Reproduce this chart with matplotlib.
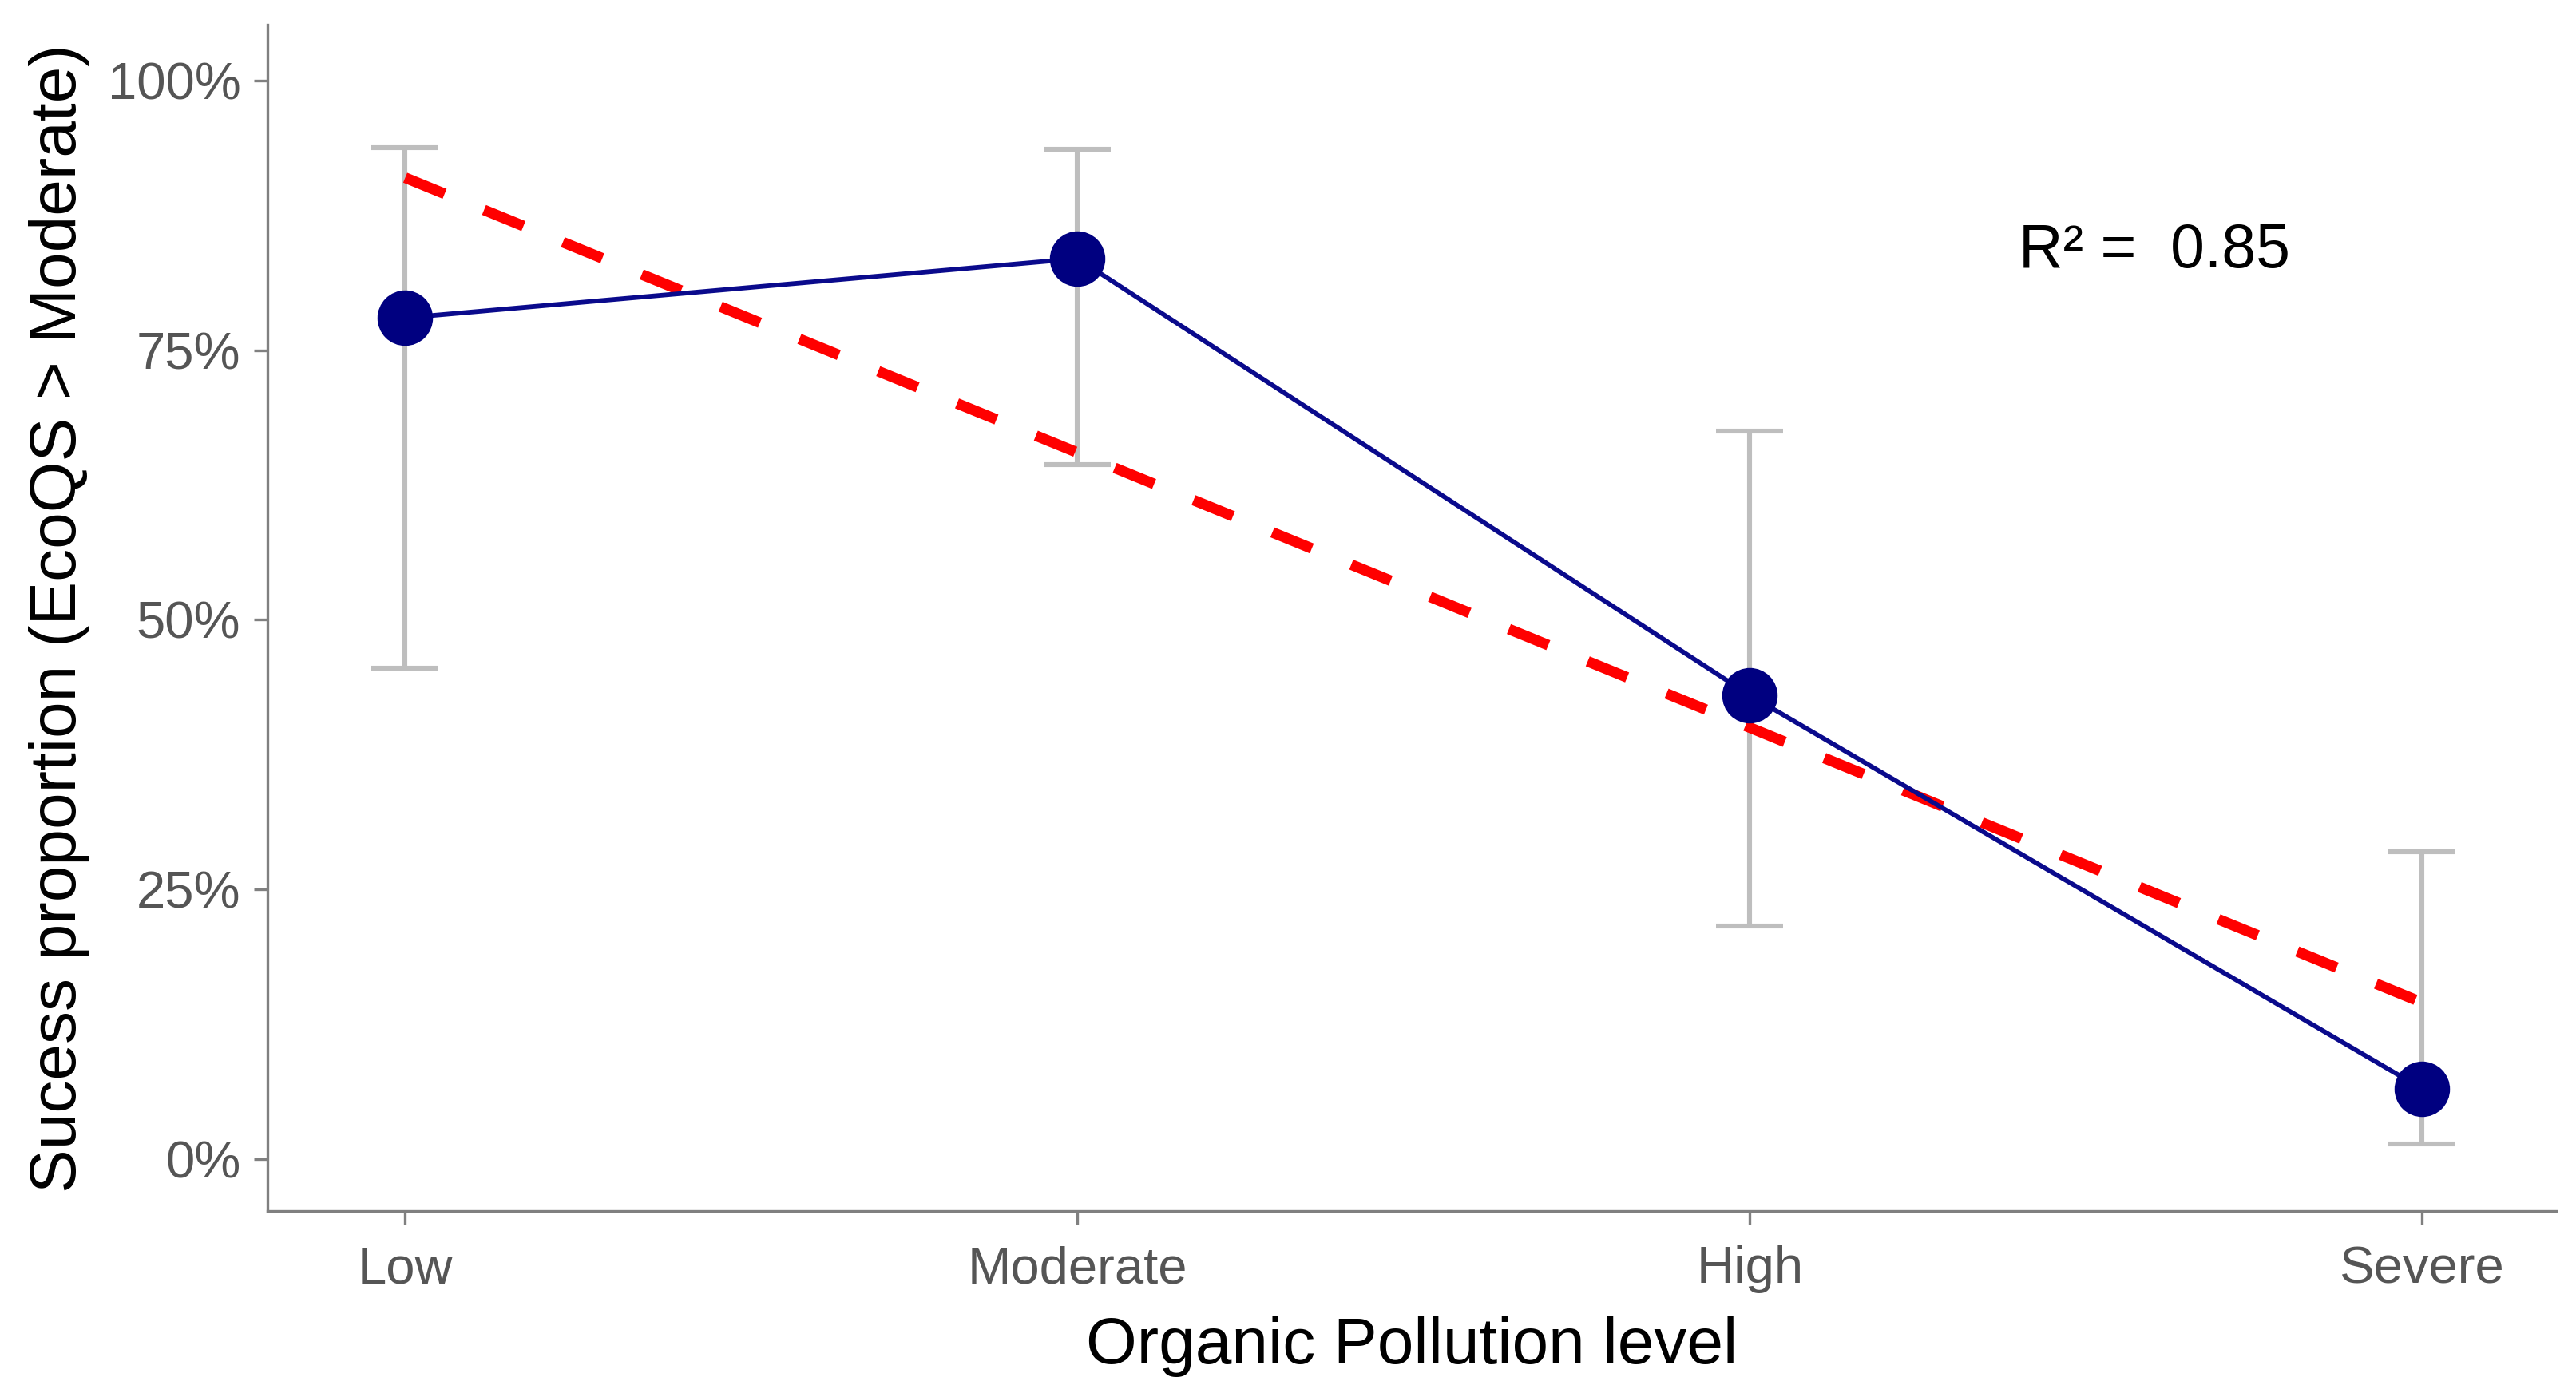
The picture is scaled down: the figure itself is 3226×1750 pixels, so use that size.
import numpy as np
import matplotlib
matplotlib.use("Agg")
import matplotlib.pyplot as plt
from matplotlib.ticker import FuncFormatter

# ---- data ----
levels = ["Low", "Moderate", "High", "Severe"]
success = [78.0, 83.5, 43.0, 6.5]          # % success proportion
ci_low = [45.5, 64.4, 21.6, 1.4]
ci_high = [93.8, 93.6, 67.5, 28.5]
r2_label = "R² =  0.85"
y_ticks = [0, 25, 50, 75, 100]

plt.rcParams['font.family'] = ['Liberation Sans', 'DejaVu Sans']

fig = plt.figure(figsize=(16.13, 8.75), dpi=200)
ax = fig.add_axes([0.1038, 0.133, 0.8886, 0.849])

x = np.arange(len(levels))
yerr = [np.array(success) - np.array(ci_low), np.array(ci_high) - np.array(success)]

ax.errorbar(x, success, yerr=yerr, fmt='none', ecolor='#BEBEBE', elinewidth=2.2,
            capsize=15, capthick=2.2, zorder=1)

# regression fit
coef = np.polyfit(x, success, 1)
xf = np.array([x[0], x[-1]])
ax.plot(xf, np.polyval(coef, xf), color='#FF0000', lw=4.8, ls=(0, (4, 4)),
        dash_capstyle='butt', zorder=2)

ax.plot(x, success, color='#0A0A8C', lw=2.1, zorder=3)
ax.plot(x, success, 'o', color='#000080', ms=24, mec='#000080', zorder=4)

ax.text(2.4, 84.2, r2_label, fontsize=27.7, color='black', ha='left', va='center')

ax.set_xlim(-0.205, 3.2)
ax.set_ylim(-4.86, 105.15)
ax.set_xticks(x)
ax.set_xticklabels(levels)
ax.set_yticks(y_ticks)
ax.yaxis.set_major_formatter(FuncFormatter(lambda v, p: f"{int(v)}%"))

for s in ['top', 'right']:
    ax.spines[s].set_visible(False)
for s in ['left', 'bottom']:
    ax.spines[s].set_color('#808080')
    ax.spines[s].set_linewidth(1.2)

ax.tick_params(axis='both', colors='#808080', length=6, width=1.2, labelsize=23.5,
               labelcolor='#555555')
ax.tick_params(axis='y', pad=6)
ax.tick_params(axis='x', pad=9.5)

ax.set_xlabel("Organic Pollution level", fontsize=29.5, color='black', labelpad=10.5)
ax.set_ylabel("Sucess proportion (EcoQS > Moderate)", fontsize=29.5, color='black', labelpad=8)

fig.savefig("out.png", dpi=200, facecolor='white')
